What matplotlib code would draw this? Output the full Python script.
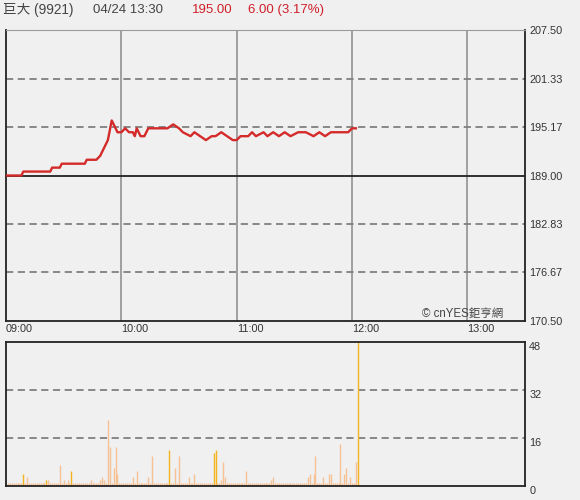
import matplotlib
matplotlib.use("Agg")
import matplotlib.pyplot as plt
import numpy as np

plt.rcParams['font.family'] = ['Liberation Sans', 'Noto Sans CJK TC', 'DejaVu Sans']

# header
stock_name = "巨大 (9921)"
stamp = "04/24 13:30"
last_price = "195.00"
change = "6.00 (3.17%)"
prev_close = 189.00

# price line: minutes after 09:00 and price
times = [0, 8, 9, 23, 24, 28, 29, 41, 42, 47, 49, 51, 53, 55, 57, 58, 60, 62, 64,
         66, 67, 68, 70, 72, 74, 75, 84, 87, 90, 92, 96, 98, 101, 104, 107, 109,
         112, 115, 118, 120, 122, 126, 128, 130, 134, 136, 139, 142, 145, 148,
         152, 156, 160, 163, 166, 169, 174, 178, 180, 182]
prices = [189.0, 189.0, 189.5, 189.5, 190.0, 190.0, 190.5, 190.5, 191.0, 191.0,
          191.5, 192.5, 193.5, 196.0, 195.0, 194.5, 194.5, 195.0, 194.5, 194.5,
          194.0, 195.0, 194.0, 194.0, 195.0, 195.0, 195.0, 195.5, 195.0, 194.5,
          194.0, 194.5, 194.0, 193.5, 194.0, 194.0, 194.5, 194.0, 193.5, 193.5,
          194.0, 194.0, 194.5, 194.0, 194.5, 194.0, 194.5, 194.0, 194.5, 194.0,
          194.5, 194.5, 194.0, 194.5, 194.0, 194.5, 194.5, 194.5, 195.0, 195.0]

# volume per minute (lots), minute 0..183
volumes = [1, 1, 1, 1, 1, 1, 1, 1, 1, 4,
           1, 3, 1, 1, 1, 1, 1, 1, 1, 1,
           1, 2, 2, 1, 1, 1, 1, 1, 7, 1,
           2, 1, 2, 1, 5, 1, 1, 1, 1, 1,
           1, 1, 1, 1, 2, 1, 1, 1, 1, 2,
           3, 2, 1, 22, 13, 1, 6, 13, 4, 1,
           1, 1, 1, 1, 1, 1, 3, 1, 5, 1,
           1, 1, 1, 1, 3, 1, 10, 1, 1, 1,
           1, 1, 1, 1, 1, 12, 1, 1, 6, 1,
           10, 1, 1, 1, 1, 3, 1, 1, 4, 1,
           1, 1, 1, 1, 1, 1, 1, 1, 11, 12,
           1, 1, 2, 8, 3, 1, 1, 1, 1, 1,
           1, 1, 1, 1, 1, 5, 1, 1, 1, 1,
           1, 1, 1, 1, 1, 1, 1, 1, 2, 3,
           1, 1, 1, 1, 1, 1, 1, 1, 1, 1,
           1, 1, 1, 1, 1, 1, 1, 3, 4, 1,
           4, 10, 1, 1, 1, 3, 1, 1, 4, 4,
           1, 1, 1, 1, 14, 1, 4, 6, 1, 3,
           1, 1, 8, 52]
bright_minutes = [9, 21, 34, 85, 108, 109, 183]

price_ticks = [170.50, 176.67, 182.83, 189.00, 195.17, 201.33, 207.50]
vol_ticks = [0, 16, 32, 48]
time_ticks = [0, 60, 120, 180, 240]
time_labels = ["09:00", "10:00", "11:00", "12:00", "13:00"]

bg = '#f0f0f0'
fig = plt.figure(figsize=(5.8, 5.0), dpi=100, facecolor=bg)

# ---- price panel
ax = fig.add_axes([6 / 580, 1 - 321 / 500, 519 / 580, 291 / 500], facecolor=bg)
ax.set_xlim(0, 270)
ax.set_ylim(price_ticks[0], price_ticks[-1])
for t in time_ticks[1:]:
    ax.axvline(t, color='#8a8a8a', lw=1.1, zorder=1)
for p in price_ticks[1:-1]:
    if p == prev_close:
        ax.axhline(p, color='#222222', lw=1.3, zorder=1)
    else:
        ax.axhline(p, color='#808080', lw=1.3, ls=(0, (4, 2.5)), zorder=1)
ax.plot(times, prices, color='#d42a2a', lw=1.7, zorder=3)

ax.yaxis.tick_right()
ax.set_yticks(price_ticks)
ax.set_yticklabels([f"{p:.2f}" for p in price_ticks])
ax.tick_params(axis='y', length=0, pad=3, labelsize=7.8, labelcolor='#333333')
ax.set_xticks(time_ticks)
ax.set_xticklabels(time_labels, ha='left')
ax.tick_params(axis='x', length=0, pad=2, labelsize=7.8, labelcolor='#333333')
for s in ['left', 'right', 'bottom']:
    ax.spines[s].set_color('#222222')
    ax.spines[s].set_linewidth(1.3)
ax.spines['top'].set_color('#9a9a9a')
ax.text(0.958, 0.003, "© cnYES鉅亨網", transform=ax.transAxes, ha='right',
        va='bottom', fontsize=8.3, color='#444444')

# ---- volume panel
axv = fig.add_axes([6 / 580, 1 - 486 / 500, 519 / 580, 144 / 500], facecolor=bg)
axv.set_xlim(0, 270)
axv.set_ylim(0, 48)
for v in vol_ticks[1:-1]:
    axv.axhline(v, color='#808080', lw=1.3, ls=(0, (4, 2.5)), zorder=1)
mins = np.arange(len(volumes))
cols = ['#f5b31f' if m in bright_minutes else '#f6c293' for m in mins]
axv.vlines(mins, 0, volumes, colors=cols, lw=1.0, zorder=2)
axv.yaxis.tick_right()
axv.set_yticks(vol_ticks)
axv.set_yticklabels([str(v) for v in vol_ticks], va='top')
axv.tick_params(axis='y', length=0, pad=3, labelsize=7.8, labelcolor='#333333')
axv.set_xticks([])
for s in axv.spines.values():
    s.set_color('#222222')
    s.set_linewidth(1.3)

# ---- header
fig.text(3 / 580, 1 - 10 / 500, stock_name, fontsize=9.8, color='#444444', va='center')
fig.text(93 / 580, 1 - 10 / 500, stamp, fontsize=9.5, color='#444444', va='center')
fig.text(192 / 580, 1 - 10 / 500, last_price, fontsize=9.5, color='#d0202a', va='center')
fig.text(248 / 580, 1 - 10 / 500, change, fontsize=9.5, color='#d0202a', va='center')

fig.savefig("out.png", dpi=100, facecolor=bg)
